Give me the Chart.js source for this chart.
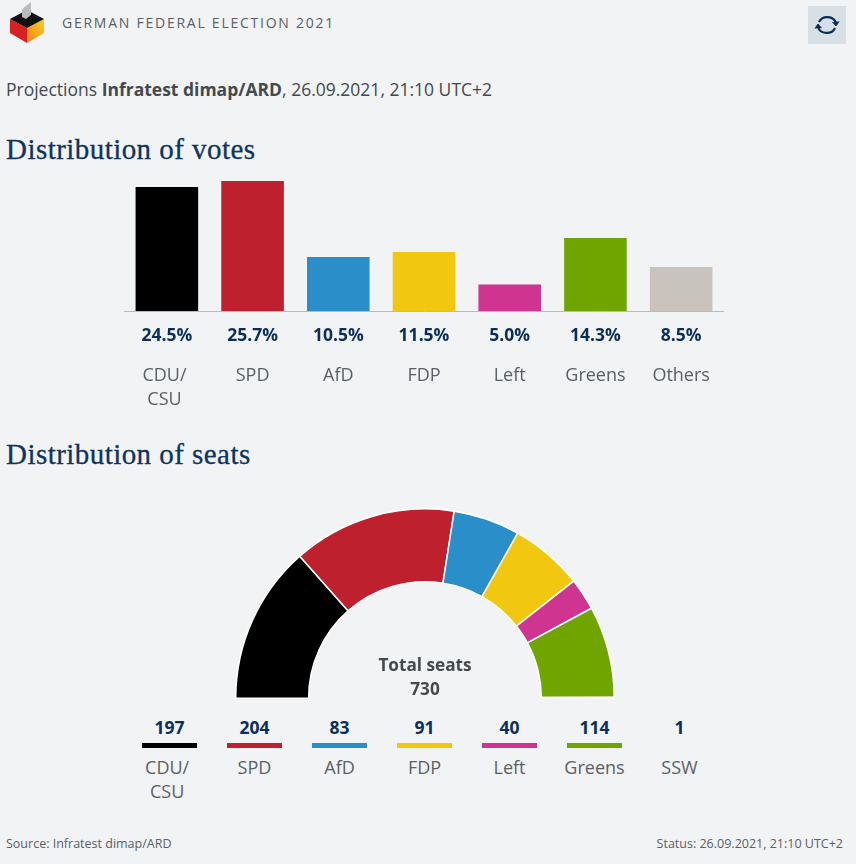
<!DOCTYPE html>
<html>
<head>
<meta charset="utf-8">
<title>German federal election 2021</title>
<script src="https://cdn.jsdelivr.net/npm/chart.js@4"></script>
<style>
  html, body { margin: 0; padding: 0; }
  body { width: 856px; height: 864px; background: #f1f3f5; position: relative; overflow: hidden;
         font-family: "Open Sans", sans-serif; color: #44494e; }
  .abs { position: absolute; white-space: nowrap; }
  #brand { left: 62px; top: 13px; font-size: 14px; line-height: 20px; letter-spacing: 1.75px; color: #5a6066; }
  #refresh { left: 808px; top: 6px; width: 38px; height: 38px; background: #d8dfe5; }
  #sub { left: 6px; top: 77px; font-size: 17.5px; line-height: 24px; }
  h2 { margin: 0; font-family: "Liberation Serif", serif; font-weight: 400; font-size: 29px; line-height: 34px;
       color: #0f3460; letter-spacing: 0.45px; -webkit-text-stroke: 0.3px #0f3460; }
  #votesWrap { position: absolute; left: 124px; top: 181px; width: 600px; height: 232px; }
  #seatsWrap { position: absolute; left: 235px; top: 508px; width: 380px; height: 191px; }
  #total { left: 325px; width: 200px; top: 653px; text-align: center; font-weight: 700; font-size: 17.2px; line-height: 24px; color: #44494e; }
  #legend { position: absolute; left: 127px; top: 715px; width: 595px; display: flex; }
  #legend .item { width: 85px; text-align: center; }
  #legend .val { font-weight: 700; font-size: 17.5px; line-height: 24px; color: #0b2f5b; }
  #legend .swatch { width: 55px; height: 5px; margin: 4px auto 7px; }
  #legend .name { font-size: 18px; line-height: 24px; color: #5a6066; }
  .foot { top: 835px; font-size: 12.5px; line-height: 18px; color: #5a6066; }
</style>
</head>
<body>
<svg class="abs" style="left:8px;top:0" width="40" height="46" viewBox="0 0 40 46">
  <defs><linearGradient id="gold" x1="0" y1="1" x2="1" y2="0">
    <stop offset="0" stop-color="#f0801f"/><stop offset="1" stop-color="#f9d21a"/></linearGradient></defs>
  <polygon points="2,19 19,28 19,43 2,33" fill="#d7201f"/>
  <polygon points="36,19 19,28 19,43 36,33" fill="url(#gold)"/>
  <polygon points="19,10 36,19 19,28 2,19" fill="#111"/>
  <polygon points="14,9 23,2 23,15 18,19 14,17" fill="#b9bdc0"/>
</svg>
<div class="abs" id="brand">GERMAN FEDERAL ELECTION 2021</div>
<div class="abs" id="refresh">
  <svg width="38" height="38" viewBox="0 0 38 38" fill="none" stroke="#0b2f5b" stroke-width="2.2">
    <path d="M11 16 A9 8 0 0 1 28 17"/><path d="M27 22 A9 8 0 0 1 10 21"/>
    <path d="M24.5 16 L28 20 L31 15.5" fill="#0b2f5b" stroke-width="1"/>
    <path d="M13.5 22 L10 18 L7 22.5" fill="#0b2f5b" stroke-width="1"/>
  </svg>
</div>
<div class="abs" id="sub">Projections <b>Infratest dimap/ARD</b>, 26.09.2021, 21:10 UTC+2</div>
<h2 class="abs" style="left:6px;top:132px">Distribution of votes</h2>
<div id="votesWrap"><canvas id="votes"></canvas></div>
<h2 class="abs" style="left:6px;top:437px">Distribution of seats</h2>
<div id="seatsWrap"><canvas id="seats"></canvas></div>
<div class="abs" id="total">Total seats<br>730</div>
<div id="legend"></div>
<div class="abs foot" style="left:6px">Source: Infratest dimap/ARD</div>
<div class="abs foot" style="right:13px">Status: 26.09.2021, 21:10 UTC+2</div>

<script>
const voteParties = ["CDU/CSU", "SPD", "AfD", "FDP", "Left", "Greens", "Others"];
const voteTicks = [["CDU/\u00a0", "CSU\u00a0"], "SPD", "AfD", "FDP", "Left", "Greens", "Others"];
const voteValues = [24.5, 25.7, 10.5, 11.5, 5.0, 14.3, 8.5];
const voteColors = ["#000000", "#be202e", "#2a8fc9", "#f1c80f", "#cf3590", "#70a500", "#c8c3bc"];

const seatParties = ["CDU/CSU", "SPD", "AfD", "FDP", "Left", "Greens", "SSW"];
const seatTicks = [["CDU/&nbsp;", "CSU&nbsp;"], ["SPD"], ["AfD"], ["FDP"], ["Left"], ["Greens"], ["SSW"]];
const seatValues = [197, 204, 83, 91, 40, 114, 1];
const seatColors = ["#000000", "#be202e", "#2a8fc9", "#f1c80f", "#cf3590", "#70a500", "transparent"];

const navy = "#0b2f5b";
const grey = "#5a6066";
const axisFloor = -0.3; // bars stop a little above the axis line otherwise

new Chart(document.getElementById("votes"), {
  type: "bar",
  data: {
    labels: voteParties,
    datasets: [{ data: voteValues, base: axisFloor, backgroundColor: voteColors, barPercentage: 0.73, categoryPercentage: 1 }]
  },
  options: {
    responsive: true,
    maintainAspectRatio: false,
    animation: false,
    layout: { padding: 0 },
    plugins: { legend: { display: false }, tooltip: { enabled: false } },
    scales: {
      y: { display: false, min: axisFloor, max: 25.7 },
      x: {
        weight: 0,
        grid: { display: false, drawTicks: false },
        border: { color: "#b4bbc2", width: 1 },
        afterFit: axis => { axis.height = 44; },
        ticks: {
          autoSkip: false, maxRotation: 0, padding: 15,
          color: navy,
          font: { family: "Open Sans", size: 17.5, weight: "700" },
          callback: (v, i) => voteValues[i].toFixed(1) + "%"
        }
      },
      names: {
        type: "category",
        position: "bottom",
        weight: 1,
        labels: voteTicks,
        grid: { display: false, drawTicks: false },
        border: { display: false },
        afterFit: axis => { axis.height = 58; },
        ticks: {
          autoSkip: false, maxRotation: 0, padding: 9,
          color: grey,
          font: { family: "Open Sans", size: 18, lineHeight: 1.33 }
        }
      }
    }
  }
});

new Chart(document.getElementById("seats"), {
  type: "doughnut",
  data: {
    labels: seatParties,
    datasets: [{ data: seatValues, backgroundColor: seatColors, borderColor: "#ffffff", borderWidth: 1.5 }]
  },
  options: {
    responsive: true,
    maintainAspectRatio: false,
    animation: false,
    rotation: -90,
    circumference: 180,
    cutout: "61.5%",
    plugins: { legend: { display: false }, tooltip: { enabled: false } }
  }
});

// seat legend under the half circle
const legend = document.getElementById("legend");
seatParties.forEach((p, i) => {
  const item = document.createElement("div");
  item.className = "item";
  item.innerHTML = `<div class="val">${seatValues[i]}</div>` +
    `<div class="swatch" style="background:${seatColors[i]}"></div>` +
    `<div class="name">${seatTicks[i].join("<br>")}</div>`;
  legend.appendChild(item);
});
</script>
</body>
</html>
